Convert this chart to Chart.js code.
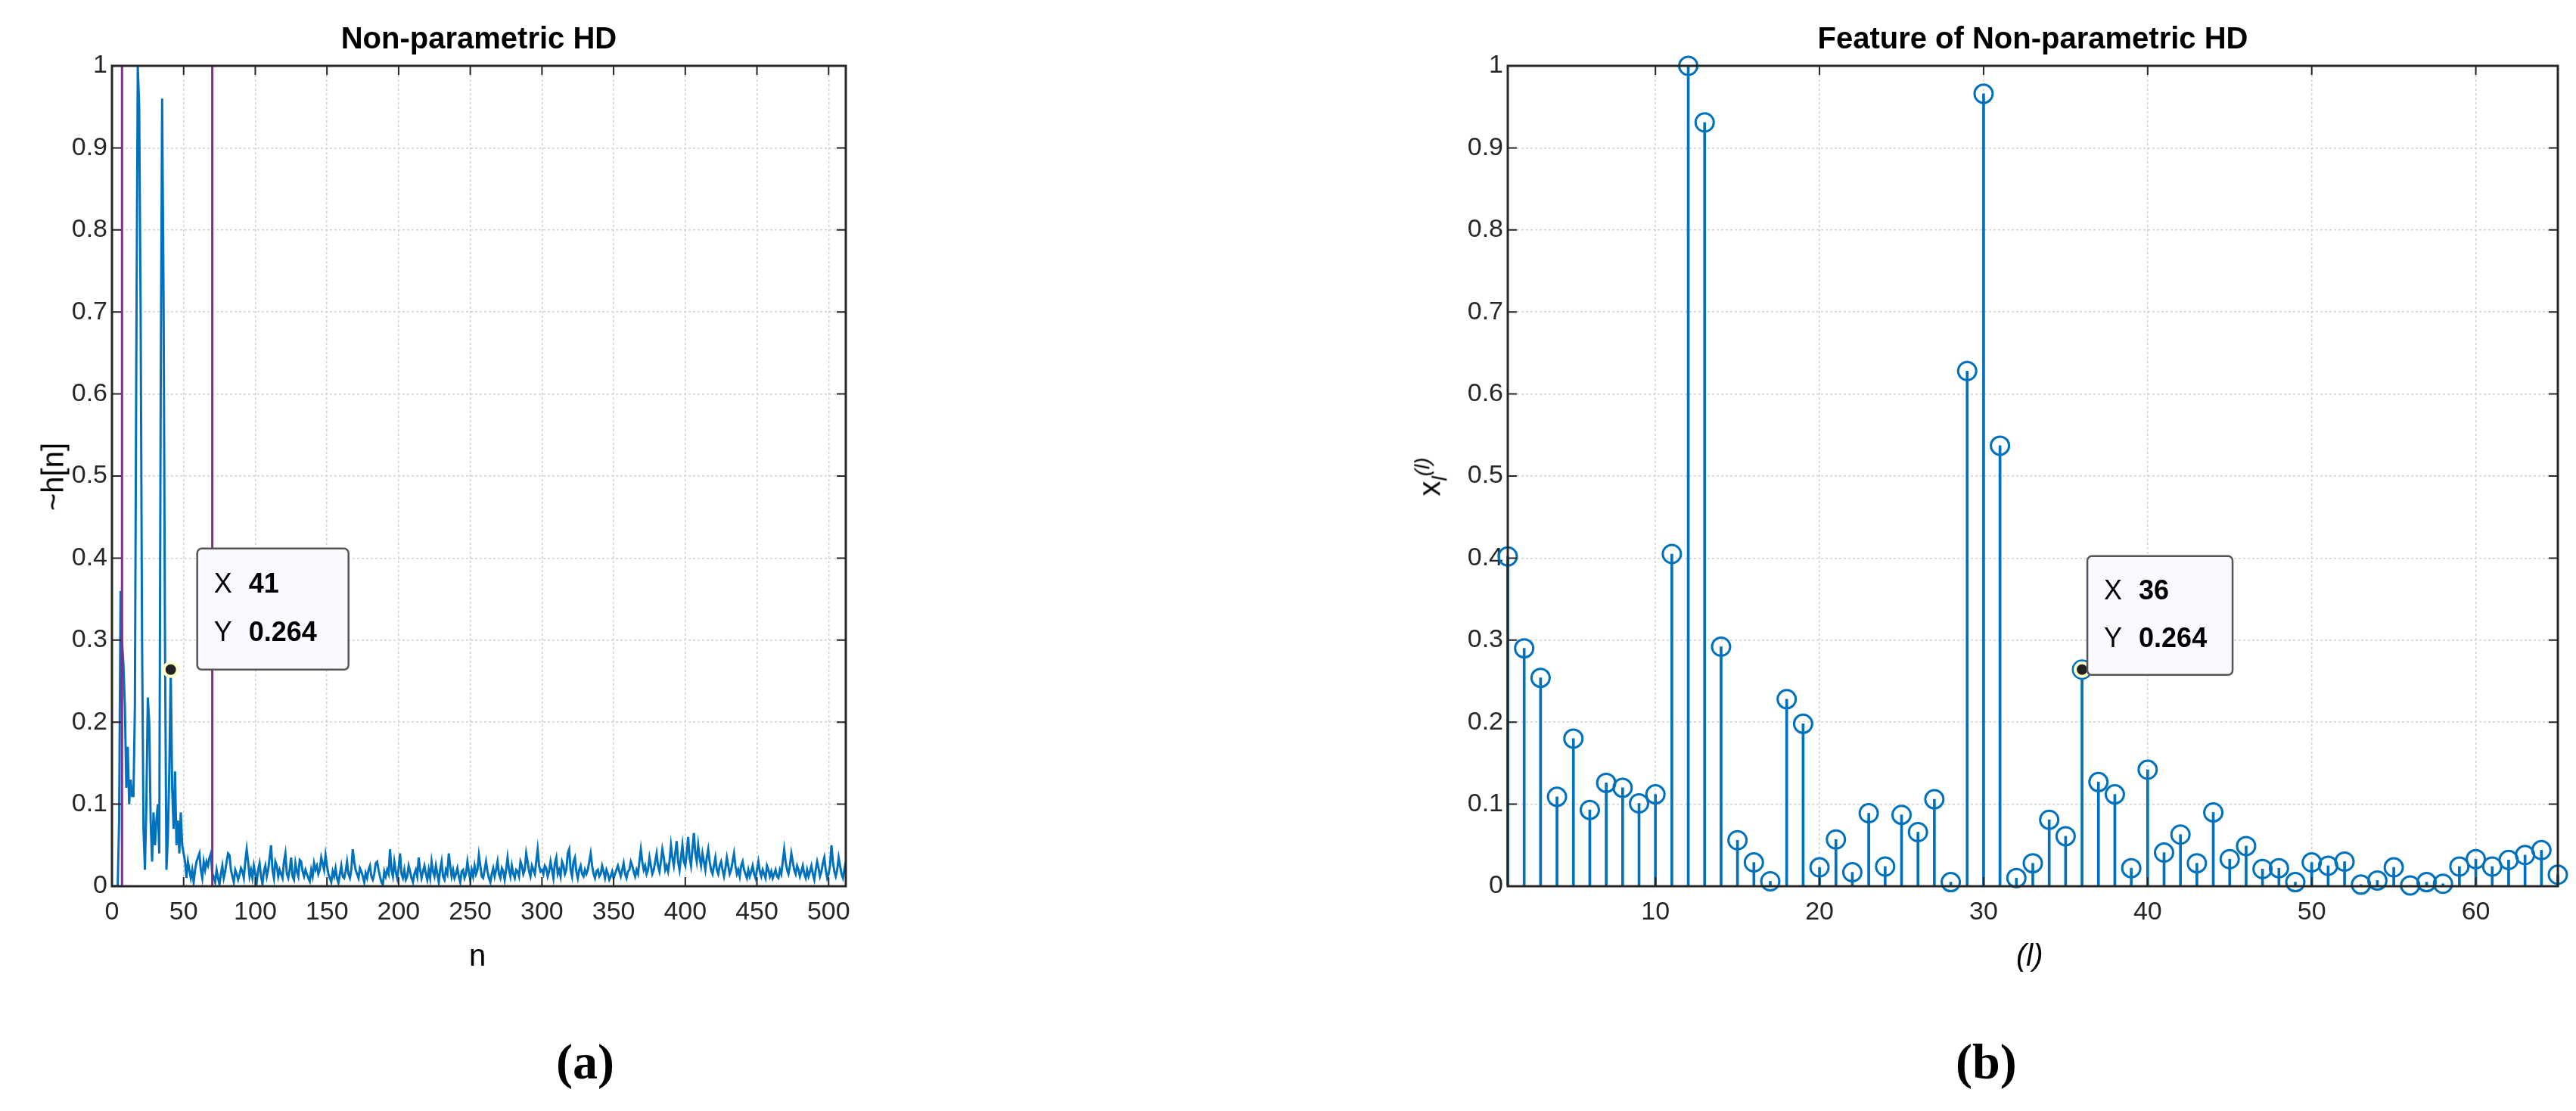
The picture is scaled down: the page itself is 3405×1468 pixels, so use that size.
<!DOCTYPE html>
<html><head><meta charset="utf-8">
<script src="https://cdn.jsdelivr.net/npm/chart.js@4/dist/chart.umd.min.js"></script>
<style>
body{margin:0;width:3405px;height:1468px;background:#fff;position:relative;overflow:hidden;font-family:"Liberation Sans",Arial,sans-serif}
.c{position:absolute;top:0}
.t{position:absolute;font-weight:bold;font-size:40px;text-align:center;white-space:nowrap}
.cap{position:absolute;font-family:"Liberation Serif",serif;font-size:66px;top:1365px;white-space:nowrap}
.lab{position:absolute;font-size:40px;white-space:nowrap}
</style></head><body>
<div class="c" style="left:0;width:1160px;height:1260px"><canvas id="a"></canvas></div>
<div class="c" style="left:1700px;width:1705px;height:1260px"><canvas id="b"></canvas></div>
<div class="t" style="left:148px;width:970px;top:28px">Non-parametric HD</div>
<div class="t" style="left:1993px;width:1388px;top:28px">Feature of Non-parametric HD</div>
<div class="lab" style="left:620px;top:1240px">n</div>
<div class="lab" style="left:2665px;top:1240px;font-style:italic">(l)</div>
<div class="lab" style="left:70px;top:630px;transform:translate(-50%,-50%) rotate(-90deg)">~h[n]</div>
<div class="lab" style="left:1892px;top:630px;transform:translate(-50%,-50%) rotate(-90deg)">x<sub style="font-size:28px;font-style:italic">l</sub><sup style="font-size:28px;font-style:italic">(l)</sup></div>
<div class="cap" style="left:735px"><b>(a)</b></div>
<div class="cap" style="left:2585px"><b>(b)</b></div>
<script>
const hEarly=[0,0,0,0,0,0.08,0.36,0.30,0.27,0.22,0.12,0.17,0.10,0.13,0.11,0.11,0.22,0.65,1.0,0.95,0.7,0.3,0.07,0.02,0.1,0.23,0.2,0.08,0.03,0.09,0.05,0.08,0.10,0.04,0.6,0.96,0.72,0.3,0.02,0.06,0.14,0.264,0.12,0.07,0.14,0.05,0.08,0.04,0.09,0.05,0.04,0.03,0.01,0.03,0.02,0.01,0.02,0.005,0.02,0.03,0.035,0.04,0.02,0.01,0.03,0.02,0.03,0.025,0.035,0.04,0.015];
const hLate=[0.012,0.005,0.02,0.01,0.002,0.015,0.025,0.01,0.018,0.03,0.04,0.038,0.02,0.012,0.005,0.02,0.015,0.008,0.014,0.022,0.018,0.01,0.03,0.045,0.03,0.012,0.02,0.01,0.025,0.015,0.005,0.02,0.028,0.012,0.003,0.018,0.025,0.012,0.02,0.035,0.05,0.02,0.01,0.03,0.025,0.012,0.02,0.015,0.01,0.03,0.04,0.015,0.01,0.02,0.035,0.012,0.008,0.028,0.018,0.012,0.032,0.03,0.018,0.012,0.02,0.015,0.01,0.006,0.02,0.012,0.028,0.02,0.025,0.015,0.02,0.035,0.028,0.02,0.038,0.025,0.015,0.01,0.005,0.018,0.012,0.022,0.01,0.004,0.015,0.025,0.012,0.01,0.018,0.03,0.015,0.01,0.02,0.045,0.03,0.02,0.015,0.01,0.022,0.018,0.012,0.005,0.016,0.01,0.02,0.025,0.012,0.008,0.015,0.028,0.03,0.02,0.012,0.005,0.002,0.018,0.012,0.02,0.015,0.045,0.02,0.012,0.03,0.018,0.01,0.022,0.04,0.015,0.01,0.02,0.008,0.012,0.025,0.018,0.01,0.005,0.015,0.02,0.012,0.035,0.02,0.01,0.018,0.025,0.015,0.008,0.02,0.01,0.03,0.018,0.012,0.025,0.015,0.005,0.02,0.03,0.012,0.008,0.02,0.015,0.04,0.025,0.012,0.02,0.01,0.015,0.022,0.012,0.005,0.018,0.02,0.01,0.015,0.03,0.018,0.008,0.02,0.012,0.025,0.015,0.02,0.038,0.025,0.012,0.01,0.02,0.03,0.018,0.01,0.005,0.015,0.022,0.012,0.02,0.03,0.015,0.01,0.022,0.018,0.008,0.02,0.035,0.02,0.012,0.025,0.015,0.01,0.02,0.018,0.012,0.03,0.025,0.015,0.02,0.04,0.03,0.018,0.012,0.025,0.02,0.015,0.03,0.045,0.025,0.018,0.02,0.015,0.025,0.022,0.012,0.018,0.03,0.02,0.01,0.028,0.035,0.015,0.02,0.012,0.03,0.025,0.015,0.02,0.04,0.045,0.02,0.012,0.03,0.035,0.018,0.01,0.02,0.025,0.015,0.012,0.02,0.015,0.02,0.03,0.04,0.025,0.015,0.01,0.018,0.02,0.012,0.015,0.025,0.018,0.01,0.02,0.015,0.008,0.012,0.018,0.01,0.015,0.02,0.025,0.018,0.012,0.02,0.028,0.015,0.01,0.018,0.02,0.03,0.025,0.018,0.012,0.02,0.015,0.03,0.045,0.03,0.02,0.025,0.015,0.02,0.035,0.025,0.015,0.02,0.03,0.04,0.025,0.018,0.03,0.045,0.035,0.02,0.025,0.018,0.03,0.05,0.035,0.025,0.04,0.055,0.03,0.02,0.035,0.05,0.03,0.025,0.04,0.06,0.035,0.025,0.045,0.065,0.04,0.03,0.05,0.035,0.025,0.04,0.03,0.02,0.035,0.045,0.03,0.02,0.015,0.025,0.035,0.02,0.015,0.025,0.03,0.02,0.012,0.022,0.035,0.025,0.015,0.02,0.03,0.04,0.025,0.015,0.02,0.012,0.025,0.03,0.02,0.015,0.01,0.02,0.012,0.018,0.025,0.015,0.01,0.02,0.03,0.018,0.012,0.02,0.015,0.01,0.025,0.02,0.012,0.018,0.01,0.015,0.02,0.012,0.01,0.02,0.015,0.03,0.045,0.03,0.02,0.015,0.025,0.04,0.03,0.02,0.015,0.025,0.02,0.012,0.018,0.025,0.015,0.01,0.02,0.012,0.018,
0.025,0.015,0.008,0.02,0.03,0.022,0.012,0.018,0.028,0.035,0.02,0.01,0.015,0.025,0.05,0.03,0.018,0.012,0.02,0.035,0.025,0.015,0.01,0.02,0.03,0.045,0.025,0.012,0.018,0.008,0.015,0.025,0.02,0.012,0.018,0.01,0.02,0.015,0.012,0.018];
const hVals=hEarly.concat(hLate).slice(0,513);
const nTicks=[0,50,100,150,200,250,300,350,400,450,500];
const purpleN=[7,70];
const tipA={x:41,y:0.264};
const featVals=[0.402,0.29,0.254,0.109,0.18,0.093,0.126,0.12,0.101,0.112,0.405,1.0,0.931,0.292,0.056,0.029,0.006,0.228,0.198,0.023,0.057,0.017,0.089,0.024,0.087,0.066,0.106,0.005,0.628,0.966,0.537,0.01,0.028,0.081,0.061,0.264,0.127,0.112,0.022,0.142,0.041,0.063,0.028,0.09,0.033,0.049,0.021,0.022,0.005,0.029,0.025,0.03,0.002,0.007,0.023,0.001,0.005,0.003,0.024,0.033,0.024,0.032,0.038,0.044,0.014];
const lTicks=[10,20,30,40,50,60];
const yTicks=[0,0.1,0.2,0.3,0.4,0.5,0.6,0.7,0.8,0.9,1];
const tipB={x:36,y:0.264};
const BLUE='#0072BD';
const tickFont={family:'Liberation Sans',size:34};
function fmt(v){return v===0?'0':(v===1?'1':String(v));}
const boxPlugin={id:'box',afterDraw(c,a,o){const ctx=c.ctx,ca=c.chartArea;ctx.save();ctx.strokeStyle='#262626';ctx.lineWidth=3;ctx.strokeRect(ca.left,ca.top,ca.right-ca.left,ca.bottom-ca.top);
 ctx.lineWidth=2;const xs=c.scales.x,ys=c.scales.y;
 xs.ticks.forEach(t=>{const p=xs.getPixelForValue(t.value);ctx.beginPath();ctx.moveTo(p,ca.bottom);ctx.lineTo(p,ca.bottom-12);ctx.moveTo(p,ca.top);ctx.lineTo(p,ca.top+12);ctx.stroke();});
 ys.ticks.forEach(t=>{const p=ys.getPixelForValue(t.value);ctx.beginPath();ctx.moveTo(ca.left,p);ctx.lineTo(ca.left+12,p);ctx.moveTo(ca.right,p);ctx.lineTo(ca.right-12,p);ctx.stroke();});
 const tip=o.tip;const px=xs.getPixelForValue(tip.x),py=ys.getPixelForValue(tip.y);
 ctx.fillStyle='#ffffcc';ctx.beginPath();ctx.arc(px,py,11,0,7);ctx.fill();
 ctx.fillStyle='#222';ctx.beginPath();ctx.arc(px,py,7,0,7);ctx.fill();
 const bx=px+o.dx,by=py-o.h+o.dy,w=o.w,h=o.h;
 ctx.fillStyle='#f9f9ff';ctx.strokeStyle='#555';ctx.lineWidth=2.5;ctx.beginPath();ctx.roundRect(bx,by,w,h,6);ctx.fill();ctx.stroke();
 ctx.fillStyle='#000';ctx.textBaseline='middle';
 ctx.font='36px Liberation Sans';ctx.fillText('X',bx+22,by+h*0.3);ctx.fillText('Y',bx+22,by+h*0.7);
 ctx.font='bold 36px Liberation Sans';ctx.fillText(String(tip.x),bx+68,by+h*0.3);ctx.fillText(String(tip.y),bx+68,by+h*0.7);
 ctx.restore();}};
function axes(xmin,xmax,xt,yw,xh){return{
 x:{type:'linear',offset:false,min:xmin,max:xmax,afterBuildTicks:s=>{s.ticks=xt.map(v=>({value:v}));},afterFit:s=>{s.height=xh;},
   ticks:{font:tickFont,color:'#262626',autoSkip:false,maxRotation:0,padding:14,callback:v=>String(v)},
   grid:{color:'#d0d0d0',lineWidth:1.5,drawTicks:false,offset:false},border:{display:false,dash:[3,3]}},
 y:{type:'linear',min:0,max:1,afterBuildTicks:s=>{s.ticks=yTicks.map(v=>({value:v}));},afterFit:s=>{s.width=yw;},
   ticks:{font:tickFont,color:'#262626',padding:6,callback:v=>fmt(Math.round(v*10)/10)},
   grid:{color:'#d0d0d0',lineWidth:1.5,drawTicks:false},border:{display:false,dash:[3,3]}}};}
const base={responsive:true,maintainAspectRatio:false,animation:false,events:[],plugins:{legend:{display:false},tooltip:{enabled:false}}};
new Chart(document.getElementById('a'),{type:'line',data:{datasets:[
 ...purpleN.map(n=>({data:[{x:n,y:0},{x:n,y:1}],borderColor:'#7E2F8E',borderWidth:3,pointRadius:0})),
 {data:hVals.map((v,i)=>({x:i,y:v})),borderColor:BLUE,borderWidth:3,pointRadius:0,tension:0}]},
 options:{...base,layout:{padding:{top:87,right:42,left:0,bottom:0}},scales:axes(0,512,nTicks,148,89),plugins:{...base.plugins,box:{tip:tipA,dx:35,dy:0,w:200,h:160}}},plugins:[boxPlugin]});
new Chart(document.getElementById('b'),{data:{datasets:[
 {type:'bar',data:featVals.map((v,i)=>({x:i+1,y:v})),backgroundColor:BLUE,barThickness:3},
 {type:'line',data:featVals.map((v,i)=>({x:i+1,y:v})),showLine:false,pointRadius:12,pointBorderWidth:3,pointBorderColor:BLUE,pointBackgroundColor:'rgba(0,0,0,0)'}]},
 options:{...base,clip:false,layout:{padding:{top:87,right:24,left:0,bottom:0}},scales:axes(1,65,lTicks,293,89),plugins:{...base.plugins,box:{tip:tipB,dx:7,dy:7,w:192,h:157}}},plugins:[boxPlugin]});
</script></body></html>
